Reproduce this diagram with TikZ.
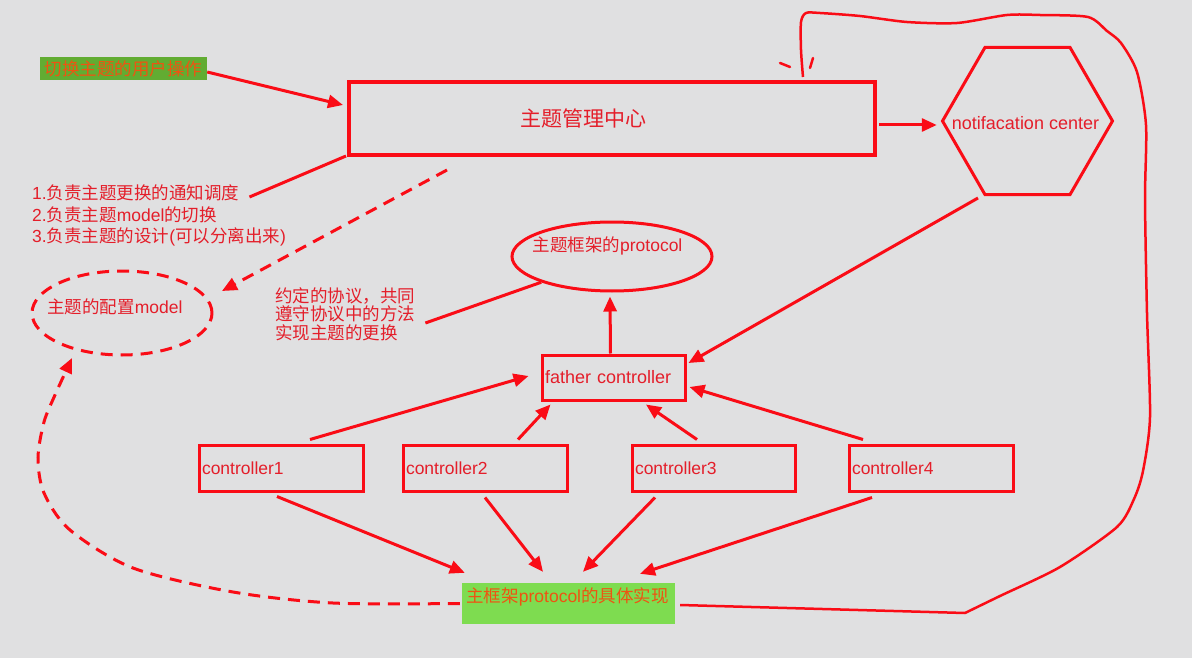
\documentclass[tikz,border=0pt]{standalone}
\usepackage{fontspec}
\setmainfont{Liberation Sans}
\newfontfamily\cjk{Noto Sans CJK SC}
\newcommand\zh[1]{{\cjk #1}}
\usetikzlibrary{arrows.meta,shapes.geometric,calc}
\definecolor{canvas}{RGB}{224,224,225}
\definecolor{linered}{RGB}{250,12,22}
\definecolor{txtred}{RGB}{228,30,42}
\definecolor{usergreen}{RGB}{98,172,50}
\definecolor{implgreen}{RGB}{126,220,80}
\definecolor{greentext}{RGB}{238,84,18}

\begin{document}
\begin{tikzpicture}[x=1pt,y=-1pt,
  every node/.style={inner sep=0pt,text=txtred,font=\fontsize{17.5}{18.5}\selectfont},
  ln/.style={draw=linered,line width=3pt},
  dashln/.style={ln,dash pattern=on 12pt off 8pt},
  tip/.style={-{Triangle[length=15pt,width=13pt]}},
  arr/.style={ln,tip},
  ctrl/.style={draw=linered,line width=3pt,minimum height=46pt,inner sep=3pt,align=left},
  tag/.style={text=greentext}
]
\fill[canvas] (0,0) rectangle (1192,658);
\useasboundingbox (0,0) rectangle (1192,658);

% ---- nodes ----
\node[fill=usergreen,minimum width=167pt,minimum height=23pt,tag] (user) at (123.5,68.5) {\zh{切换主题的用户操作}};

\node[draw=linered,line width=4pt,minimum width=526pt,minimum height=73pt,
      label={[anchor=center,xshift=-28.5pt,font=\fontsize{21}{24}\selectfont]center:\zh{主题管理中心}}]
      (mgr) at (612,118.5) {};

\node[regular polygon,regular polygon sides=6,draw=linered,line width=3pt,
      minimum size=170pt,
      label={[anchor=center,xshift=-2pt,yshift=-2pt,font=\fontsize{18}{20}\selectfont]center:notifacation center}]
      (hex) at (1027.5,121) {};

\node[anchor=west] (l1) at (32,193) {1.\zh{负责主题更换的通知调度}};
\node[anchor=west] (l2) at (32,215) {2.\zh{负责主题}model\zh{的切换}};
\node[anchor=west] (l3) at (32,237) {3.\zh{负责主题的设计}(\zh{可以分离出来})};

\node[ellipse,dashln,minimum width=180pt,minimum height=84pt,
      label={[anchor=center,xshift=-7pt,yshift=6pt]center:\zh{主题的配置}model}]
      (cfg) at (122,313) {};

\node[ellipse,ln,minimum width=200pt,minimum height=69pt,
      label={[anchor=center,xshift=-4.5pt,yshift=10.5pt]center:\zh{主题框架的}protocol}]
      (proto) at (612,256.5) {};

\node[anchor=west,align=left] (note) at (275,314)
  {\zh{约定的协议，共同}\\\zh{遵守协议中的方法}\\\zh{实现主题的更换}};

\node[ctrl,text width=137pt,minimum height=45pt,font=\fontsize{18}{20}\selectfont] (fc) at (613.5,377.5) {father controller};

\node[ctrl,text width=158pt] (c1) at (281,468) {controller1};
\node[ctrl,text width=158pt] (c2) at (485,468) {controller2};
\node[ctrl,text width=157pt] (c3) at (713.5,468) {controller3};
\node[ctrl,text width=158pt] (c4) at (931,468) {controller4};

\node[fill=implgreen,minimum width=213pt,minimum height=41pt,
      label={[anchor=center,tag,xshift=-1pt,yshift=6.5pt]center:\zh{主框架}protocol\zh{的具体实现}}]
      (impl) at (568.5,603.5) {};

% ---- connectors ----
\draw[arr] ($(user.east)+(0,3.5)$) -- ($(mgr.west)+(-4,-13.5)$);
\draw[arr] ($(mgr.east)+(2,6.5)$) -- ($(hex.west)+(-4,4)$);
\draw[ln] ($(l1.east)+(10,4)$) -- ($(mgr.south west)+(-1,-1)$);
\draw[dashln,tip] ($(mgr.south)+(-165,13)$) -- ($(cfg)+(100,-22)$);
\draw[ln] ($(note.east)+(10,9)$) -- (proto.200);
\draw[arr] ($(fc.north)+(-3,0)$) -- ($(proto.south)+(-2,4)$);
\draw[arr] ($(hex)+(-49.5,77)$) -- ($(fc.east)+(2,-14.5)$);

\draw[arr] ($(c1.north)+(29,-4)$) -- ($(fc.west)+(-12,-1.5)$);
\draw[arr] ($(c2.north)+(33,-4)$) -- ($(fc.south west)+(10,3)$);
\draw[arr] ($(c3.north)+(-16.5,-4)$) -- ($(fc.south)+(32.5,3)$);
\draw[arr] ($(c4.north)+(-68,-4)$) -- ($(fc.east)+(3,9.5)$);

\draw[arr] ($(c1.south)+(-4,4)$) -- ($(impl.north west)+(3,-10)$);
\draw[arr] ($(c2.south)+(0,5)$) -- ($(impl.north)+(-25.5,-11)$);
\draw[arr] ($(c3.south)+(-58.5,5)$) -- ($(impl.north)+(14.5,-11)$);
\draw[arr] ($(c4.south)+(-59,5)$) -- ($(impl.north)+(71.5,-9)$);

% dashed return from the implementation to the config model
\draw[dashln,tip] plot[smooth] coordinates {($(impl.west)+(-2,0)$) (333,603) (233,592) (133,568)
  (70,530) (44,493) (38,458) (44,422) (55,395) ($(cfg)+(-50,45)$)};

% hand-drawn loop from the implementation back to the theme manager
\draw[ln,line width=2.5pt,line join=round] ($(impl.east)+(5,1.5)$) -- plot[smooth,tension=0.45] coordinates {
  (965,613) (1000,596) (1060,567) (1117,527) (1134,499) (1143,471) (1150,417) (1147,313)
  (1145,200) (1146,125) (1137,72) (1121,43) (1107,31) (1088,17) (1040,15) (1007,15)
  (957,23) (907,22) (860,16) (820,13) (806,13) (801,22) (801,50) ($(mgr.north)+(191,-3)$)};
\draw[linered,line width=2.5pt,line cap=round] (780,63) -- (790,67);
\draw[linered,line width=2.5pt,line cap=round] (810,68) -- (813,58);
\end{tikzpicture}
\end{document}
